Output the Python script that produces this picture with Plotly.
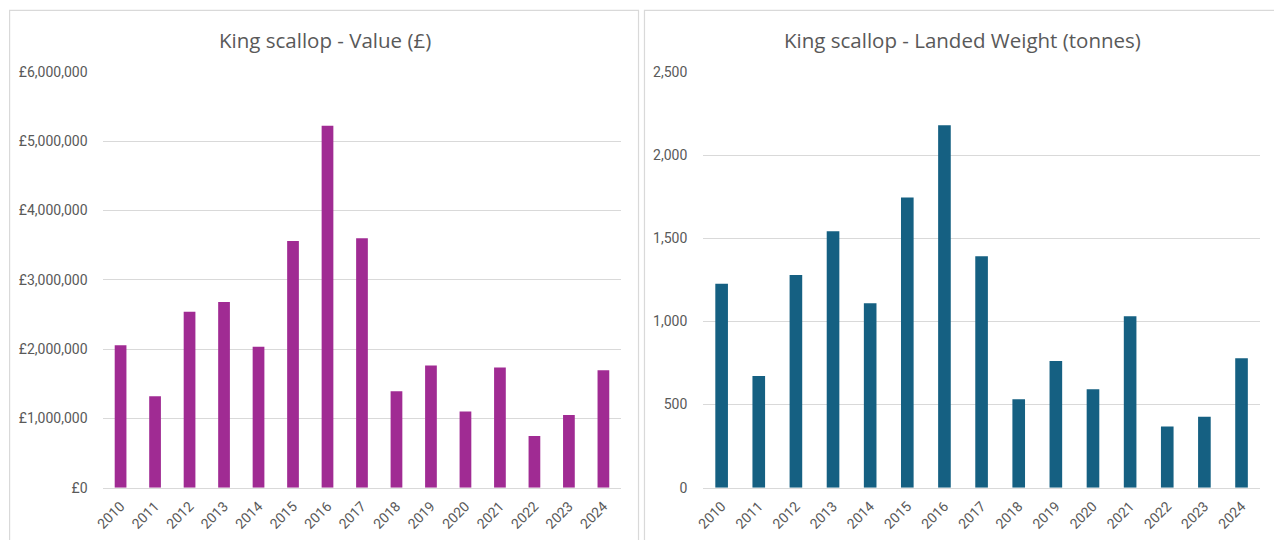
import plotly.graph_objects as go

# King scallop landings by year
years = ["2010", "2011", "2012", "2013", "2014", "2015", "2016", "2017",
         "2018", "2019", "2020", "2021", "2022", "2023", "2024"]
value_gbp = [2055000, 1320000, 2540000, 2680000, 2035000, 3560000, 5225000, 3600000,
             1390000, 1765000, 1100000, 1735000, 745000, 1050000, 1695000]
weight_tonnes = [1226, 672, 1279, 1542, 1109, 1745, 2180, 1392,
                 531, 762, 592, 1031, 368, 426, 778]

value_ticks = [0, 1000000, 2000000, 3000000, 4000000, 5000000, 6000000]
value_tick_text = ["£0", "£1,000,000", "£2,000,000", "£3,000,000",
                   "£4,000,000", "£5,000,000", "£6,000,000"]
weight_ticks = [0, 500, 1000, 1500, 2000, 2500]
weight_tick_text = ["0", "500", "1,000", "1,500", "2,000", "2,500"]

# The page body keeps its default 8px margin, so the figure is sized to
# fill the 1282x556 window exactly from that offset.
PAGE_MARGIN = 8
W, H = 1282 - PAGE_MARGIN, 556 - 2 * PAGE_MARGIN
TEXT = "#595959"
GRID = "#d9d9d9"
FONT = "Open Sans, Roboto, Arial, sans-serif"


def px(x):
    """Window x position -> paper fraction."""
    return (x - PAGE_MARGIN) / W


def py(y):
    """Window y position (from top) -> paper fraction."""
    return 1 - (y - PAGE_MARGIN) / H


fig = go.Figure()
fig.add_trace(go.Bar(x=years, y=value_gbp, marker_color="#A02B93",
                     marker_line_width=0, xaxis="x", yaxis="y"))
fig.add_trace(go.Bar(x=years, y=weight_tonnes, marker_color="#156082",
                     marker_line_width=0, xaxis="x2", yaxis="y2"))

ydom = [py(502.3), py(74)]
tick_font = dict(family="Roboto, Arial, sans-serif", size=14, color=TEXT)

xcommon = dict(type="category", showgrid=False, zeroline=False,
               showline=True, linecolor=GRID, linewidth=1,
               tickangle=-45, tickfont=tick_font, ticks="outside",
               ticklen=4, tickcolor="rgba(0,0,0,0)", fixedrange=True)
ycommon = dict(showgrid=True, gridcolor=GRID, gridwidth=1, zeroline=False,
               showline=False, tickfont=tick_font, ticks="outside",
               ticklen=12, tickcolor="rgba(0,0,0,0)", fixedrange=True)

fig.update_layout(
    width=W, height=H,
    margin=dict(l=0, r=0, t=0, b=0),
    paper_bgcolor="white", plot_bgcolor="white",
    showlegend=False,
    bargap=0.66,
    xaxis=dict(domain=[px(103), px(624)], anchor="y", **xcommon),
    yaxis=dict(domain=ydom, anchor="x", range=[0, 6000000],
               tickvals=value_ticks, ticktext=value_tick_text, **ycommon),
    xaxis2=dict(domain=[px(707), px(1268)], anchor="y2", **xcommon),
    yaxis2=dict(domain=ydom, anchor="x2", range=[0, 2500],
                tickvals=weight_ticks, ticktext=weight_tick_text, **ycommon),
    shapes=[
        dict(type="rect", xref="paper", yref="paper",
             x0=px(8.6), x1=px(642), y0=py(580), y1=py(10.5),
             line=dict(color=GRID, width=1.2), fillcolor="rgba(0,0,0,0)", layer="below"),
        dict(type="rect", xref="paper", yref="paper",
             x0=px(648), x1=px(1295), y0=py(580), y1=py(10.5),
             line=dict(color=GRID, width=1.2), fillcolor="rgba(0,0,0,0)", layer="below"),
    ],
    annotations=[
        dict(text="King scallop - Value (£)", xref="paper", yref="paper",
             x=px(326), y=py(41), xanchor="center", yanchor="middle",
             showarrow=False, font=dict(family=FONT, size=20.5, color=TEXT)),
        dict(text="King scallop - Landed Weight (tonnes)", xref="paper", yref="paper",
             x=px(968), y=py(41), xanchor="center", yanchor="middle",
             showarrow=False, font=dict(family=FONT, size=20.5, color=TEXT)),
    ],
)

fig.write_html("out.html")
